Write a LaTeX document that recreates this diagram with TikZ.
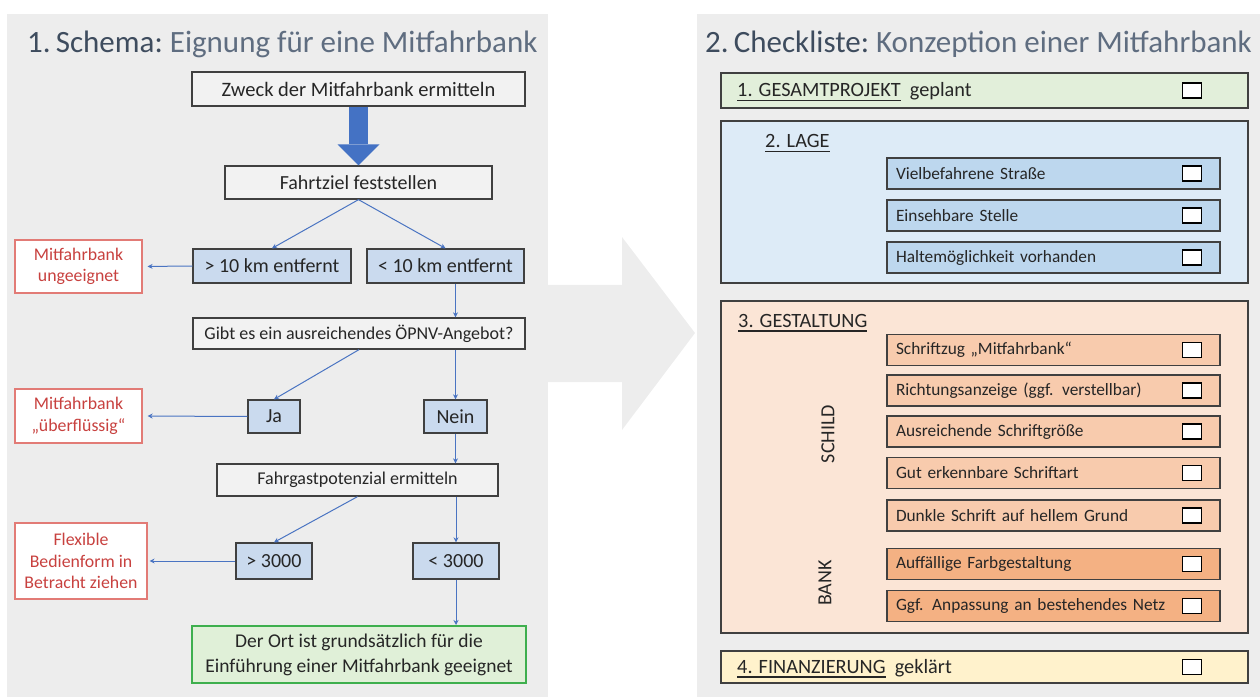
\documentclass[tikz,border=0pt]{standalone}
\usepackage{fontspec}
\setmainfont{Carlito}
\usetikzlibrary{arrows.meta}

\definecolor{panelgrey}{HTML}{EDEDED}
\definecolor{titledark}{HTML}{3E4C5E}
\definecolor{titlelight}{HTML}{5F6D80}
\definecolor{textdark}{HTML}{262626}
\definecolor{boxgrey}{HTML}{F2F2F2}
\definecolor{boxedge}{HTML}{404040}
\definecolor{boxblue}{HTML}{CADAEE}
\definecolor{linkblue}{HTML}{4A74C2}
\definecolor{bigblue}{HTML}{4472C4}
\definecolor{redtext}{HTML}{C8413F}
\definecolor{rededge}{HTML}{E27B76}
\definecolor{okfill}{HTML}{E0F0D8}
\definecolor{okedge}{HTML}{3EAF4E}
\definecolor{projfill}{HTML}{E2EFDA}
\definecolor{lagefill}{HTML}{DDEBF7}
\definecolor{lageitem}{HTML}{BDD7EE}
\definecolor{gestfill}{HTML}{FBE5D6}
\definecolor{schilditem}{HTML}{F8CBAD}
\definecolor{bankitem}{HTML}{F4B183}
\definecolor{finfill}{HTML}{FFF2CC}

\newcommand{\headul}[1]{\setbox0\hbox{#1}\rlap{\rule[-4.5pt]{\wd0}{1.6pt}}\box0}

\tikzset{
  flowbox/.style={draw=boxedge, line width=1.3pt, inner sep=0pt, text=textdark, align=center},
  greybox/.style={flowbox, fill=boxgrey},
  bluebox/.style={flowbox, fill=boxblue, font=\fontsize{20pt}{24pt}\selectfont},
  redbox/.style={draw=rededge, line width=1.2pt, fill=white, inner sep=0pt, text=redtext, align=center,
    font=\fontsize{17.8pt}{21.5pt}\selectfont},
  link/.style={draw=linkblue, line width=1pt, -{Stealth[length=5pt,width=5pt]}},
  groupbox/.style={draw=boxedge, line width=1.3pt, minimum width=527pt, inner sep=0pt},
  itembox/.style={draw=boxedge, line width=1.2pt, minimum width=333pt, minimum height=31pt,
    text width=315pt, inner xsep=9pt, inner ysep=0pt, align=left, text=textdark,
    font=\fontsize{17.3pt}{20pt}\selectfont},
  chk/.style={draw=black, fill=white, line width=1.5pt, minimum width=19pt, minimum height=15pt, inner sep=0pt},
  heading/.style={anchor=base west, inner sep=0pt, text=textdark, font=\fontsize{20.3pt}{23pt}\selectfont},
  sidelabel/.style={rotate=90, inner sep=0pt, text=textdark, font=\fontsize{20pt}{22pt}\selectfont},
  title/.style={anchor=base west, inner sep=0pt, font=\fontsize{31pt}{36pt}\selectfont}
}

\begin{document}
\begin{tikzpicture}[x=1pt,y=-1pt]
      \useasboundingbox (0,0) rectangle (1260,700);
      % panels
      \fill [panelgrey] (7,14) rectangle (548,697);
      \fill [panelgrey] (697,14) rectangle (1260,697);
      \fill [panelgrey] (548,285) -- (622,285) -- (622,237) -- (695,333) -- (622,430) -- (622,382) -- (548,382) -- cycle;
      \node [title] (schematitle) at (27,53) {\color{titledark}1.\,Schema:\ \color{titlelight}Eignung für eine Mitfahrbank};
      \node [title] (checktitle) at (705,53) {\color{titledark}2.\,Checkliste:\ \color{titlelight}Konzeption einer Mitfahrbank};

      % schema
      \node [greybox, minimum width=333pt, minimum height=34pt, font=\fontsize{20.5pt}{24pt}\selectfont] (zweck) at (358.5,89) {Zweck der Mitfahrbank ermitteln};
      \node [greybox, minimum width=267pt, minimum height=33pt, font=\fontsize{20pt}{24pt}\selectfont] (ziel) at (358.5,182.5) {Fahrtziel feststellen};
      \node [bluebox, minimum width=158pt, minimum height=34pt] (weit) at (272,266) {> 10 km entfernt};
      \node [bluebox, minimum width=157pt, minimum height=34pt] (nah) at (445.5,266) {< 10 km entfernt};
      \node [redbox, minimum width=127pt, minimum height=53pt] (ungeeignet) at (78.5,266.5) {Mitfahrbank\\ungeeignet};
      \node [greybox, minimum width=332pt, minimum height=31pt, font=\fontsize{18pt}{22pt}\selectfont] (oepnv) at (359,333.5) {Gibt es ein ausreichendes ÖPNV-Angebot?};
      \node [bluebox, minimum width=52pt, minimum height=33pt] (ja) at (274,416.5) {Ja};
      \node [bluebox, minimum width=63pt, minimum height=33pt] (nein) at (455.5,416.5) {Nein};
      \node [redbox, minimum width=127pt, minimum height=54pt] (ueberfluessig) at (78.5,416) {Mitfahrbank\\„überflüssig“};
      \node [greybox, minimum width=281pt, minimum height=32pt, font=\fontsize{18pt}{22pt}\selectfont] (potenzial) at (357.5,480) {Fahrgastpotenzial ermitteln};
      \node [bluebox, minimum width=76pt, minimum height=36pt] (viele) at (274,561) {> 3000};
      \node [bluebox, minimum width=86pt, minimum height=36pt] (wenige) at (456,561) {< 3000};
      \node [redbox, minimum width=132pt, minimum height=76pt] (flexibel) at (81,561) {Flexible\\Bedienform in\\Betracht ziehen};
      \node [flowbox, draw=okedge, line width=2pt, fill=okfill, minimum width=334pt, minimum height=57pt, font=\fontsize{19.5pt}{25pt}\selectfont] (geeignet) at (359,654.5) {Der Ort ist grundsätzlich für die\\Einführung einer Mitfahrbank geeignet};

      \draw [bigblue, line width=19pt, -{Triangle[width=42pt,length=21pt,line width=0pt]}] (zweck.south) -- (ziel.north);
      \draw [link] (ziel.south) -- (weit.north);
      \draw [link] (ziel.south) -- (nah.north);
      \draw [link, shorten >=5pt] (weit.west) -- (ungeeignet.east);
      \draw [link] (nein |- nah.south) -- (nein |- oepnv.north);
      \draw [link] (oepnv.south) -- (ja.north);
      \draw [link] (nein |- oepnv.south) -- (nein.north);
      \draw [link, shorten >=5pt] (ja.west) -- (ueberfluessig.east);
      \draw [link] (nein.south) -- (nein |- potenzial.north);
      \draw [link] (potenzial.south) -- (viele.north);
      \draw [link] (wenige |- potenzial.south) -- (wenige.north);
      \draw [link, shorten >=2pt] (viele.west) -- (flexibel.east);
      \draw [link] (wenige.south) -- (wenige |- geeignet.north);

      % checkliste
      \node [groupbox, fill=projfill, minimum height=35pt] (projekt) at (984.5,90.5) {};
      \node [heading] (projekttext) at (737,97) {\headul{1. GESAMTPROJEKT}\ \ geplant};
      \node [chk] (projektchk) at (1192,90.5) {};

      \node [groupbox, fill=lagefill, minimum height=162pt] (lage) at (984.5,202) {};
      \node [heading] (lagetext) at (765,148) {\headul{2. LAGE}};
      \node [itembox, fill=lageitem] (strasse) at (1053.5,173.5) {Vielbefahrene Straße};
      \node [itembox, fill=lageitem] (stelle) at (1053.5,215.5) {Einsehbare Stelle};
      \node [itembox, fill=lageitem] (halten) at (1053.5,257.5) {Haltemöglichkeit vorhanden};
      \node [chk] (strassechk) at (1192,173.5) {};
      \node [chk] (stellechk) at (1192,215.5) {};
      \node [chk] (haltenchk) at (1192,257.5) {};

      \node [groupbox, fill=gestfill, minimum height=332pt] (gestaltung) at (984.5,467) {};
      \node [heading] (gestaltungtext) at (738,327) {\headul{3. GESTALTUNG}};
      \node [sidelabel] (schild) at (828,434) {SCHILD};
      \node [sidelabel] (bank) at (825,583) {BANK};
      \node [itembox, fill=schilditem] (schriftzug) at (1053.5,350) {Schriftzug „Mitfahrbank“};
      \node [itembox, fill=schilditem] (richtung) at (1053.5,390.5) {Richtungsanzeige (ggf. verstellbar)};
      \node [itembox, fill=schilditem] (groesse) at (1053.5,431.5) {Ausreichende Schriftgröße};
      \node [itembox, fill=schilditem] (schriftart) at (1053.5,473) {Gut erkennbare Schriftart};
      \node [itembox, fill=schilditem] (kontrast) at (1053.5,515.5) {Dunkle Schrift auf hellem Grund};
      \node [itembox, fill=bankitem] (farbe) at (1053.5,564) {Auffällige Farbgestaltung};
      \node [itembox, fill=bankitem] (netz) at (1053.5,606) {Ggf. Anpassung an bestehendes Netz};
      \node [chk] (schriftzugchk) at (1192,350) {};
      \node [chk] (richtungchk) at (1192,390.5) {};
      \node [chk] (groessechk) at (1192,431.5) {};
      \node [chk] (schriftartchk) at (1192,473) {};
      \node [chk] (kontrastchk) at (1192,515.5) {};
      \node [chk] (farbechk) at (1192,564) {};
      \node [chk] (netzchk) at (1192,606) {};

      \node [groupbox, fill=finfill, minimum height=32pt] (finanz) at (984.5,667) {};
      \node [heading] (finanztext) at (737,673) {\headul{4. FINANZIERUNG}\ \ geklärt};
      \node [chk] (finanzchk) at (1192,667) {};
    \end{tikzpicture}
\end{document}
